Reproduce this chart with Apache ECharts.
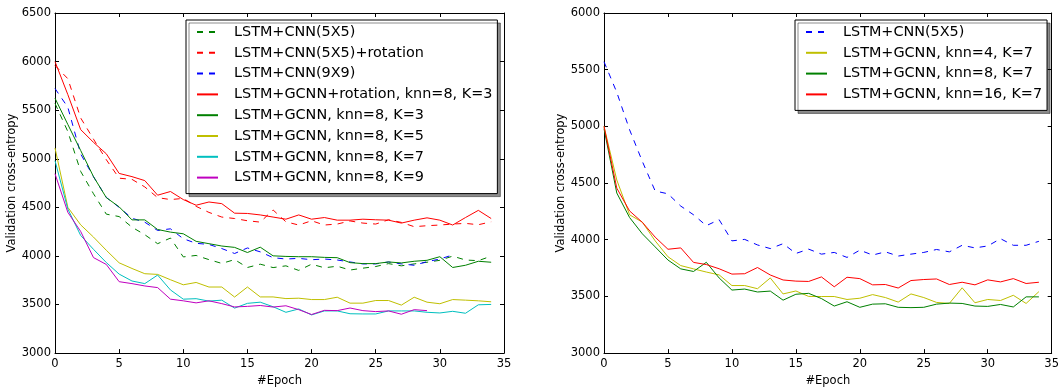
<!DOCTYPE html>
<html>
<head>
<meta charset="utf-8">
<script src="https://cdn.jsdelivr.net/npm/echarts@6/dist/echarts.min.js"></script>
<style>
html,body{margin:0;padding:0;background:#fff;}
#chart{width:1062px;height:392px;}
</style>
</head>
<body>
<div id="chart"></div>
<script>
// ---- data ----
const epochs = [0,1,2,3,4,5,6,7,8,9,10,11,12,13,14,15,16,17,18,19,20,21,22,23,24,25,26,27,28,29,30,31,32,33,34];
const xTicks = [0,5,10,15,20,25,30,35];
const leftYTicks = [3000,3500,4000,4500,5000,5500,6000,6500];
const rightYTicks = [3000,3500,4000,4500,5000,5500,6000];
const xTitle = '#Epoch';
const yTitle = 'Validation cross-entropy';

const leftNames = [
  'LSTM+CNN(5X5)',
  'LSTM+CNN(5X5)+rotation',
  'LSTM+CNN(9X9)',
  'LSTM+GCNN+rotation, knn=8, K=3',
  'LSTM+GCNN, knn=8, K=3',
  'LSTM+GCNN, knn=8, K=5',
  'LSTM+GCNN, knn=8, K=7',
  'LSTM+GCNN, knn=8, K=9'
];
const rightNames = [
  'LSTM+CNN(5X5)',
  'LSTM+GCNN, knn=4, K=7',
  'LSTM+GCNN, knn=8, K=7',
  'LSTM+GCNN, knn=16, K=7'
];

const L_cnn5 = [5570,5280,4870,4640,4430,4405,4296,4218,4126,4184,3990,4005,3962,3923,3962,3881,3915,3880,3898,3851,3915,3878,3894,3855,3874,3891,3921,3898,3918,3935,3955,3998,3958,3951,3998];
const L_cnn5rot = [5960,5824,5420,5202,4990,4800,4788,4710,4600,4580,4592,4510,4448,4400,4385,4362,4348,4473,4351,4318,4362,4318,4328,4360,4338,4328,4372,4345,4301,4311,4318,4328,4335,4321,4351];
const L_cnn9 = [5723,5530,5050,4815,4602,4500,4388,4347,4262,4279,4177,4130,4118,4076,4025,4082,4042,3982,3968,3975,3961,3968,3958,3938,3918,3918,3938,3918,3904,3941,3968,4010];
const L_gcnnRot = [6000,5660,5300,5169,5051,4849,4816,4775,4625,4663,4580,4522,4555,4538,4440,4437,4422,4400,4378,4422,4378,4395,4368,4368,4378,4372,4368,4338,4368,4392,4368,4318,4395,4469,4385];
const L_k3 = [5623,5353,5085,4816,4600,4505,4371,4371,4272,4245,4228,4150,4126,4102,4088,4035,4090,4001,3995,3992,3992,3985,3982,3931,3921,3921,3938,3928,3945,3955,3992,3881,3904,3945,3935];
const L_k5 = [5111,4500,4320,4194,4058,3929,3871,3817,3810,3755,3703,3727,3680,3680,3577,3680,3578,3578,3561,3565,3551,3551,3575,3514,3514,3541,3541,3494,3575,3524,3508,3551,3545,3538,3528];
const L_k7 = [4980,4483,4211,4068,3932,3813,3742,3715,3803,3650,3555,3560,3535,3545,3463,3512,3524,3477,3420,3454,3393,3434,3434,3405,3403,3403,3434,3434,3434,3420,3413,3430,3410,3497,3501];
const L_k9 = [4846,4449,4252,3983,3912,3735,3715,3691,3674,3555,3538,3517,3538,3509,3475,3481,3490,3474,3487,3447,3397,3440,3437,3464,3437,3427,3434,3400,3447,3437];

const R_cnn5 = [5570,5300,4970,4690,4430,4405,4297,4220,4124,4177,3990,4003,3954,3922,3965,3879,3917,3873,3888,3844,3908,3865,3893,3856,3873,3888,3914,3893,3951,3928,3945,4009,3951,3951,3986];
const R_knn4 = [5000,4527,4220,4155,3990,3850,3772,3743,3715,3690,3596,3596,3568,3663,3522,3548,3500,3499,3499,3473,3484,3516,3490,3450,3522,3490,3447,3438,3576,3444,3473,3464,3510,3438,3542];
const R_knn8 = [4980,4412,4196,4052,3937,3821,3743,3720,3801,3663,3556,3565,3539,3547,3467,3519,3527,3481,3415,3453,3404,3432,3435,3404,3401,3404,3432,3441,3438,3415,3412,3429,3407,3496,3496];
const R_knn16 = [5000,4455,4254,4153,4023,3916,3928,3800,3781,3744,3697,3700,3755,3689,3645,3635,3632,3672,3585,3669,3657,3602,3605,3574,3640,3649,3654,3605,3625,3602,3646,3628,3657,3614,3625];

// ---- chart ----
const FONT = 'DejaVu Sans';
const DASH = [6, 6];
const pairs = vals => vals.map((v, i) => [epochs[i], v]);
const RPREFIX = 'R:';

function mkSeries(name, vals, color, dashed, xi, yi) {
  return {
    name: name, type: 'line', data: pairs(vals),
    xAxisIndex: xi, yAxisIndex: yi,
    symbol: 'none', showSymbol: false, animation: false,
    lineStyle: { color: color, width: 1, type: dashed ? DASH : 'solid' },
    itemStyle: { color: color },
    emphasis: { disabled: true }
  };
}

const axisLine = { show: true, onZero: false, lineStyle: { color: '#000', width: 1 } };
const tick = { show: true, inside: true, length: 4, lineStyle: { color: '#000' } };
const labelStyle = { color: '#000', fontFamily: FONT, fontSize: 11.5 };
const plain = v => String(v);

function xAxes(grid, top) {
  return {
    type: 'value', gridIndex: grid, position: top ? 'top' : 'bottom',
    min: xTicks[0], max: xTicks[xTicks.length - 1], interval: xTicks[1] - xTicks[0],
    axisLine: axisLine, axisTick: tick, splitLine: { show: false },
    axisLabel: top ? { show: false } : Object.assign({ margin: 5, formatter: plain }, labelStyle),
    name: top ? '' : xTitle, nameLocation: 'middle', nameGap: 20,
    nameTextStyle: labelStyle
  };
}
function yAxes(grid, right, ticks) {
  return {
    type: 'value', gridIndex: grid, position: right ? 'right' : 'left',
    min: ticks[0], max: ticks[ticks.length - 1], interval: ticks[1] - ticks[0],
    axisLine: axisLine, axisTick: tick, splitLine: { show: false },
    axisLabel: right ? { show: false } : Object.assign({ margin: 4, formatter: plain }, labelStyle),
    name: right ? '' : yTitle, nameLocation: 'middle', nameGap: 36, nameRotate: 90,
    nameTextStyle: labelStyle
  };
}

function legendCfg(left, names) {
  return {
    left: left, top: 20, orient: 'vertical', data: names,
    itemWidth: 21, itemHeight: 14, itemGap: 3.8,
    padding: [3.5, 5, 7.5, 10],
    backgroundColor: '#fff', borderColor: '#000', borderWidth: 1, borderRadius: 0,
    shadowColor: 'rgba(0,0,0,0.45)', shadowOffsetX: 3, shadowOffsetY: 3, shadowBlur: 0,
    selectedMode: false,
    itemStyle: { opacity: 0, borderWidth: 0 },
    formatter: n => n.indexOf(RPREFIX) === 0 ? n.slice(RPREFIX.length) : n,
    textStyle: { fontFamily: FONT, fontSize: 14.4, color: '#000', padding: [0, 0, 0, 11], lineHeight: 17 }
  };
}

const rNames = rightNames.map(n => RPREFIX + n);

const chart = echarts.init(document.getElementById('chart'), null, { renderer: 'canvas' });
chart.setOption({
  animation: false,
  backgroundColor: '#fff',
  grid: [
    { left: 55, right: 558, top: 13, bottom: 32 },
    { left: 604, right: 9, top: 13, bottom: 32 }
  ],
  xAxis: [xAxes(0, false), xAxes(0, true), xAxes(1, false), xAxes(1, true)],
  yAxis: [yAxes(0, false, leftYTicks), yAxes(0, true, leftYTicks), yAxes(1, false, rightYTicks), yAxes(1, true, rightYTicks)],
  legend: [legendCfg(186, leftNames), legendCfg(795, rNames)],
  series: [
    mkSeries(leftNames[0], L_cnn5, '#008000', true, 0, 0),
    mkSeries(leftNames[1], L_cnn5rot, '#ff0000', true, 0, 0),
    mkSeries(leftNames[2], L_cnn9, '#0000ff', true, 0, 0),
    mkSeries(leftNames[3], L_gcnnRot, '#ff0000', false, 0, 0),
    mkSeries(leftNames[4], L_k3, '#008000', false, 0, 0),
    mkSeries(leftNames[5], L_k5, '#bfbf00', false, 0, 0),
    mkSeries(leftNames[6], L_k7, '#00bfbf', false, 0, 0),
    mkSeries(leftNames[7], L_k9, '#bf00bf', false, 0, 0),
    mkSeries(rNames[0], R_cnn5, '#0000ff', true, 2, 2),
    mkSeries(rNames[1], R_knn4, '#bfbf00', false, 2, 2),
    mkSeries(rNames[2], R_knn8, '#008000', false, 2, 2),
    mkSeries(rNames[3], R_knn16, '#ff0000', false, 2, 2)
  ]
});
</script>
</body>
</html>
